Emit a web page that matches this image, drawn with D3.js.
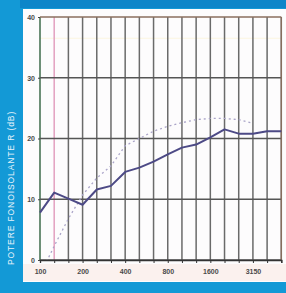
<!DOCTYPE html>
<html>
<head>
<meta charset="utf-8">
<script src="https://cdn.jsdelivr.net/npm/d3@7"></script>
<style>
  body { margin: 0; background: #1399d6; }
  svg { display: block; }
</style>
</head>
<body>
<div id="chart"></div>
<script>
// third-octave bands (Hz)
const bands = ["100","125","160","200","250","315","400","500","630","800","1000","1250","1600","2000","2500","3150","4000","5000"];
const bandLabels = ["100","200","400","800","1600","3150"];
const yTicks = [0, 10, 20, 30, 40];

// measured R (dB), solid line
const measured = [7.8, 11.1, 10.1, 9.1, 11.6, 12.2, 14.5, 15.2, 16.2, 17.4, 18.5, 19.0, 20.2, 21.5, 20.8, 20.8, 21.2, 21.2];
// reference curve, dotted line (100..3150)
const reference = [-2.5, 2.3, 6.8, 10.7, 13.5, 15.5, 18.8, 20.0, 21.2, 22.0, 22.6, 23.1, 23.3, 23.3, 23.1, 22.5];

const W = 286, H = 293;
const margin = {top: 17, right: 5, bottom: 33, left: 40};

const svg = d3.select("#chart").append("svg")
  .attr("width", W)
  .attr("height", H);

// white panel
svg.append("rect")
  .attr("x", 23).attr("y", 9)
  .attr("width", W - 23).attr("height", 273)
  .attr("fill", "#fdfcfd");

// darker strip at the top
svg.append("rect")
  .attr("x", 20).attr("y", 0)
  .attr("width", W - 20).attr("height", 8)
  .attr("fill", "#0d86c9");

// label row tint
svg.append("rect")
  .attr("x", 23).attr("y", 264)
  .attr("width", W - 23).attr("height", 17)
  .attr("fill", "#fbf1ee");

const x = d3.scalePoint().domain(bands).range([margin.left, 281.3]);
const y = d3.scaleLinear().domain([0, 40]).range([260, margin.top]);

const grid = svg.append("g");

// faint tint line near top
grid.append("line")
  .attr("x1", x("100")).attr("x2", x("5000"))
  .attr("y1", y(36.5)).attr("y2", y(36.5))
  .attr("stroke", "#fbf5e0").attr("stroke-width", 1);

// vertical grid
grid.selectAll(".vline")
  .data(bands)
  .join("line")
  .attr("class", "vline")
  .attr("x1", d => x(d)).attr("x2", d => x(d))
  .attr("y1", y(40)).attr("y2", y(0))
  .attr("stroke", d => d === "125" ? "#e3a0c0" : (d === "100" ? "#3d6b4a" : "#6a6a6a"))
  .attr("stroke-width", 1.5);

// horizontal grid
grid.selectAll(".hline")
  .data(yTicks)
  .join("line")
  .attr("class", "hline")
  .attr("x1", x("100")).attr("x2", x("5000"))
  .attr("y1", d => y(d)).attr("y2", d => y(d))
  .attr("stroke", d => d === 40 ? "#8a6f5e" : "#555")
  .attr("stroke-width", 1.3);

// right border
grid.append("line")
  .attr("x1", x("5000")).attr("x2", x("5000"))
  .attr("y1", y(40)).attr("y2", y(0))
  .attr("stroke", "#8a6f5e").attr("stroke-width", 1.3);

// x axis
const xAxis = d3.axisBottom(x)
  .tickSize(3)
  .tickFormat(d => bandLabels.includes(d) ? d : "");

svg.append("g")
  .attr("transform", `translate(0,${y(0)})`)
  .call(xAxis)
  .call(g => g.select(".domain").attr("stroke", "#333").attr("stroke-width", 1.3))
  .call(g => g.selectAll(".tick line").attr("stroke", "#333"))
  .call(g => g.selectAll("text")
    .attr("dy", "1.2em")
    .attr("fill", "#4a4a4a")
    .style("font-family", "Liberation Sans, Arial, sans-serif")
    .style("font-size", "7px")
    .style("font-weight", "bold"));

// y axis
const yAxis = d3.axisLeft(y).tickValues(yTicks).tickSize(2);

svg.append("g")
  .attr("transform", `translate(${margin.left},0)`)
  .call(yAxis)
  .call(g => g.select(".domain").remove())
  .call(g => g.selectAll(".tick line").attr("stroke", "#444"))
  .call(g => g.selectAll("text")
    .attr("fill", "#4a4a4a")
    .style("font-family", "Liberation Sans, Arial, sans-serif")
    .style("font-size", "7px")
    .style("font-weight", "bold"));

// clip to plot
svg.append("clipPath").attr("id", "plot")
  .append("rect")
  .attr("x", x("100")).attr("y", y(40))
  .attr("width", x("5000") - x("100")).attr("height", y(0) - y(40));

const line = d3.line()
  .x((d, i) => x(bands[i]))
  .y(d => y(d));

svg.append("path")
  .datum(reference)
  .attr("clip-path", "url(#plot)")
  .attr("fill", "none")
  .attr("stroke", "#aaa4c8")
  .attr("stroke-width", 1.3)
  .attr("stroke-dasharray", "2,3")
  .attr("d", line);

svg.append("path")
  .datum(measured)
  .attr("fill", "none")
  .attr("stroke", "#4d4a86")
  .attr("stroke-width", 2)
  .attr("stroke-linejoin", "round")
  .attr("d", line);

// y title
svg.append("text")
  .attr("transform", "translate(14,188) rotate(-90)")
  .attr("text-anchor", "middle")
  .attr("fill", "#e8f4fb")
  .style("font-family", "Liberation Sans, Arial, sans-serif")
  .style("font-size", "8.5px")
  .style("letter-spacing", "0.9px")
  .text("POTERE FONOISOLANTE R (dB)");
</script>
</body>
</html>
